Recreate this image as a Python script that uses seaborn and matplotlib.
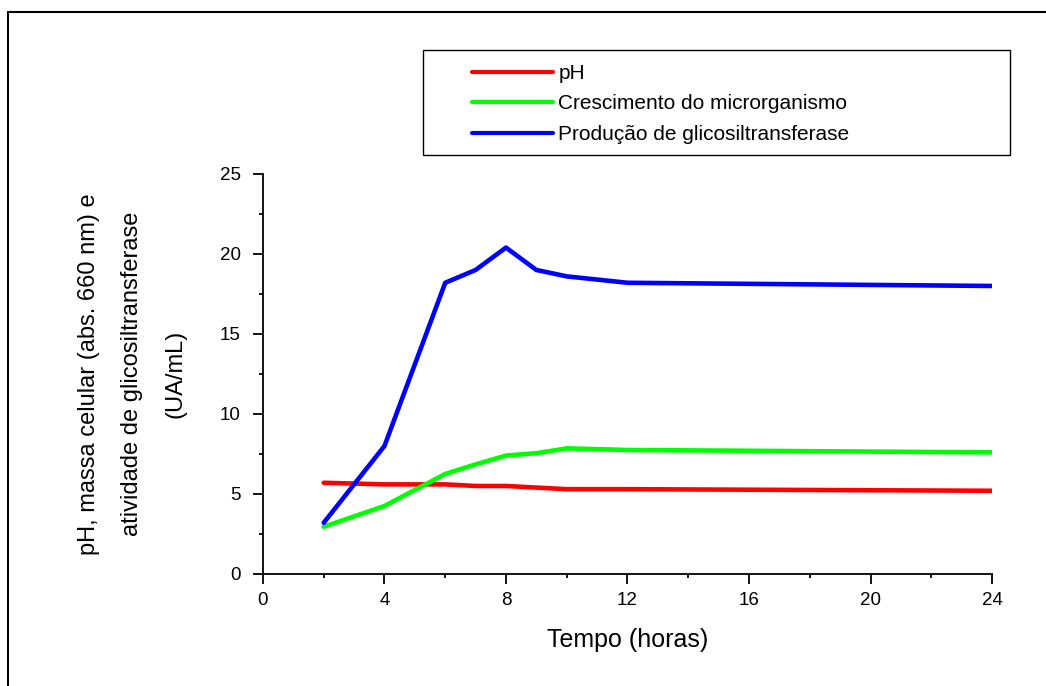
import seaborn as sns
import numpy as np
import pandas as pd
import matplotlib.pyplot as plt
from matplotlib.lines import Line2D
from matplotlib.patches import Rectangle
from matplotlib.ticker import MultipleLocator

# Data
horas = [2, 4, 6, 7, 8, 9, 10, 12, 24]
ph = [5.7, 5.6, 5.6, 5.5, 5.5, 5.4, 5.3, 5.3, 5.2]
crescimento = [2.95, 4.25, 6.25, 6.85, 7.4, 7.55, 7.85, 7.75, 7.6]
producao = [3.2, 8.0, 18.2, 19.0, 20.4, 19.0, 18.6, 18.2, 18.0]

series_names = ["pH", "Crescimento do microrganismo", "Produção de glicosiltransferase"]
series_colors = ["#ff0000", "#00ff00", "#0000ff"]

df = pd.DataFrame({
    "Tempo": horas * 3,
    "valor": ph + crescimento + producao,
    "serie": np.repeat(series_names, len(horas)),
})

sns.set_style("ticks")
plt.rcParams["font.family"] = ["Liberation Sans", "DejaVu Sans"]
plt.rcParams["text.color"] = "black"
plt.rcParams["axes.labelcolor"] = "black"

fig = plt.figure(figsize=(10.46, 6.86), dpi=100)
ax = fig.add_axes([0.2514, 0.1633, 0.6970, 0.5831])

sns.lineplot(data=df, x="Tempo", y="valor", hue="serie", hue_order=series_names,
             palette=series_colors, linewidth=3.3, ax=ax, legend=False)

ax.set_xlim(0, 24)
ax.set_ylim(0, 25)
ax.xaxis.set_major_locator(MultipleLocator(4))
ax.xaxis.set_minor_locator(MultipleLocator(2))
ax.yaxis.set_major_locator(MultipleLocator(5))
ax.yaxis.set_minor_locator(MultipleLocator(2.5))
ax.tick_params(which="major", length=7, width=1.3, colors="black", labelsize=13.5)
ax.tick_params(which="minor", length=3, width=1.3, colors="black")
ax.tick_params(axis="y", pad=9)
ax.tick_params(axis="x", pad=6)
for s in ["top", "right"]:
    ax.spines[s].set_visible(False)
for s in ["left", "bottom"]:
    ax.spines[s].set_linewidth(1.3)
    ax.spines[s].set_color("black")

ax.set_xlabel("Tempo (horas)", fontsize=18, labelpad=14)
ax.set_ylabel("pH, massa celular (abs. 660 nm) e\natividade de glicosiltransferase\n(UA/mL)",
              fontsize=17, linespacing=2.25)
ax.yaxis.set_label_coords(-0.105, 0.5)

# legend inside its own box
handles = [Line2D([], [], color=c, lw=3) for c in series_colors]
fig.legend(handles, series_names, loc="upper left",
           bbox_to_anchor=(472 / 1046, 1 - 64 / 686), frameon=False,
           fontsize=15, handlelength=3.9, handletextpad=0.25, labelspacing=0.55,
           borderpad=0, borderaxespad=0)
fig.patches.append(Rectangle((423 / 1046, 1 - 155 / 686), 587 / 1046, 105 / 686,
                             transform=fig.transFigure, fill=False,
                             edgecolor="black", lw=1))

# frame lines around the figure (top and left only)
fig.add_artist(Line2D([8 / 1046, 1], [1 - 12 / 686, 1 - 12 / 686],
                      transform=fig.transFigure, color="black", lw=1.5))
fig.add_artist(Line2D([8 / 1046, 8 / 1046], [0, 1 - 12 / 686],
                      transform=fig.transFigure, color="black", lw=1.5))

fig.savefig("out.png", dpi=100)
